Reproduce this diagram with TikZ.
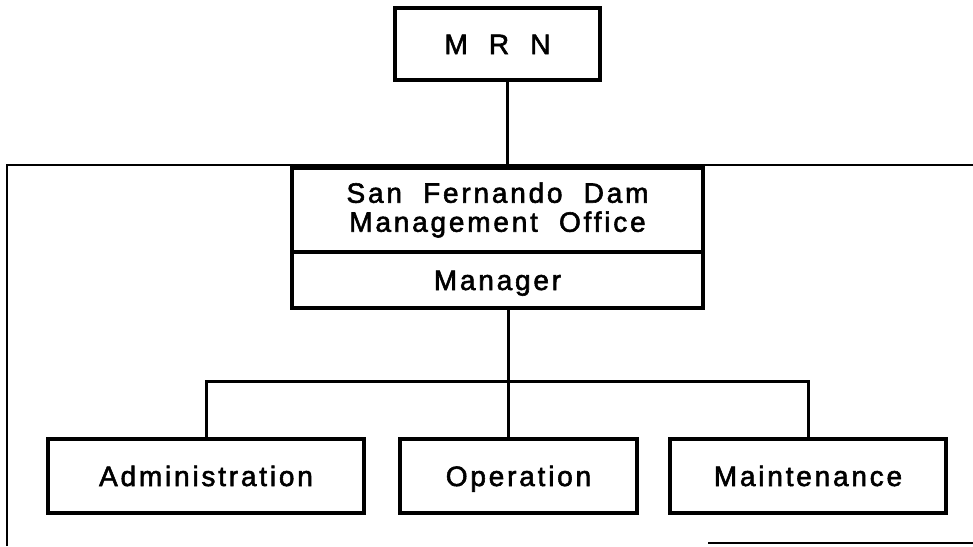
\documentclass[tikz,border=0pt]{standalone}
\usepackage{fontspec}
\newfontfamily\lettering[LetterSpace=10,WordSpace=2,FakeBold=2]{Liberation Sans}
\usetikzlibrary{calc}
\tikzset{
  orgbox/.style={draw, line width=3.2pt, inner sep=0pt, align=center,
    font=\lettering\fontsize{28}{29}\selectfont},
  onerow/.style={text height=20pt, text depth=0pt},
  link/.style={line width=3pt},
}
\begin{document}
\begin{tikzpicture}[x=1pt, y=-1pt]
  \useasboundingbox (0,0) rectangle (973,546);

  % Frame
  \draw[line width=2.4pt] (7,546) -- (7,165) -- (973,165);
  \draw[line width=2.4pt] (708,543) -- (973,543);

  % Boxes
  \node[orgbox, onerow, minimum width=205pt, minimum height=72pt] (mrn) at (497.5,44) {M R N};
  \node[orgbox, minimum width=411pt, minimum height=84pt] (office) at (497.5,210) {San Fernando Dam\\Management Office};
  \node[orgbox, onerow, minimum width=411pt, minimum height=56pt] (manager) at (497.5,280) {Manager};
  \node[orgbox, onerow, minimum width=316pt, minimum height=74pt] (admin) at (206,476) {Administration};
  \node[orgbox, onerow, minimum width=237pt, minimum height=74pt] (opn) at (518.5,476) {Operation};
  \node[orgbox, onerow, minimum width=276pt, minimum height=74pt] (maint) at (808,476) {Maintenance};

  % Links
  \coordinate (hub) at (508,381);
  \draw[link] ([xshift=9.5pt]mrn.south) -- ([xshift=9.5pt]mrn.south |- office.north);
  \draw[link] (hub |- manager.south) -- (hub |- opn.north);
  \draw[link] (admin.north) |- (hub) -| (maint.north);
\end{tikzpicture}
\end{document}
